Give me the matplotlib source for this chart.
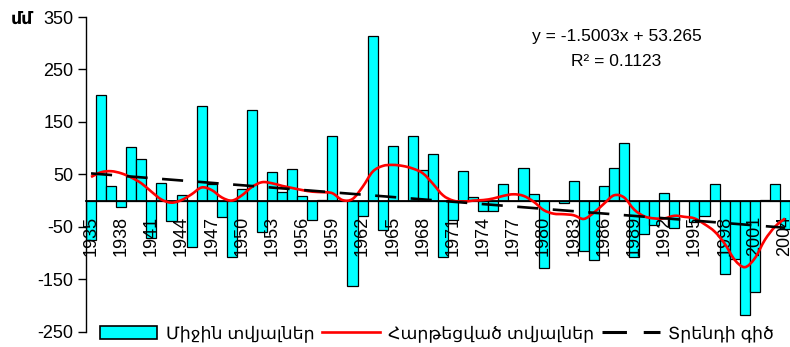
import numpy as np
import matplotlib
matplotlib.use("Agg")
import matplotlib.pyplot as plt
from matplotlib.path import Path
from matplotlib.patches import PathPatch, Patch
from matplotlib.lines import Line2D

# yearly precipitation anomalies, mm
years = list(range(1935, 2005))
mean_vals = [-75, 202, 27, -13, 103, 80, -72, 34, -38, 11,
             -88, 181, 31, -32, -108, 23, 172, -59, 55, 17,
             60, 9, -37, 2, 123, 0, -162, -30, 314, -57,
             104, 0, 123, 58, 89, -107, -37, 57, 6, -20,
             -20, 31, 0, 63, 12, -128, 0, -5, 37, -97,
             -113, 28, 63, 109, -107, -64, -47, 15, -53, 0,
             -40, -30, 31, -140, -111, -218, -175, 2, 31, -54]
smooth_vals = [45, 54, 56, 52, 44, 33, 17, 2, -4, 1,
               12, 25, 20, 6, 0, 10, 26, 35, 33, 28,
               24, 20, 17, 16, 14, 1, 3, 26, 55, 66,
               68, 66, 61, 52, 32, 10, 0, -2, 0, 1,
               4, 9, 12, 9, -2, -18, -25, -26, -28, -35,
               -23, -6, 10, 6, -17, -30, -34, -34, -29, -31,
               -34, -45, -59, -82, -113, -127, -110, -75, -50, -34]
trend_slope = -1.5003
trend_icept = 53.265
y_ticks = [-250, -150, -50, 50, 150, 250, 350]
tick_years = years[::3]

legend_labels = ["Միջին տվյալներ", "Հարթեցված տվյալներ", "Տրենդի գիծ"]
unit_label = "մմ"
eq_text = "y = -1.5003x + 53.265"
r2_text = "R² = 0.1123"

plt.rcParams["font.family"] = ["Liberation Sans", "DejaVu Sans"]
plt.rcParams["axes.unicode_minus"] = False


def smooth_path(xs, ys):
    """Excel-like smoothed line: Catmull-Rom tangents as cubic Bezier segments."""
    pts = np.column_stack([xs, ys]).astype(float)
    n = len(pts)
    verts = [pts[0]]; codes = [Path.MOVETO]
    for i in range(n - 1):
        p0 = pts[max(i - 1, 0)]; p1 = pts[i]; p2 = pts[i + 1]; p3 = pts[min(i + 2, n - 1)]
        verts += [p1 + (p2 - p0) / 6.0, p2 - (p3 - p1) / 6.0, p2]
        codes += [Path.CURVE4] * 3
    return Path(verts, codes)


W, H = 790, 347
fig = plt.figure(figsize=(W / 100, H / 100), dpi=100)
ax = fig.add_axes([86 / W, 15.3 / H, 704 / W, 314.7 / H])

trend_ls = (0, (8, 5.5))
x = np.arange(len(years))
ax.bar(x, mean_vals, width=1.0, color="#00FFFF", edgecolor="black", linewidth=0.9, zorder=1)
ax.add_patch(PathPatch(smooth_path(x, smooth_vals), facecolor="none", edgecolor="red",
                       lw=1.9, zorder=3))
xt = x + 1
ax.plot(x, trend_slope * xt + trend_icept, color="black", lw=1.9, linestyle=trend_ls, zorder=4)

ax.set_xlim(-0.5, len(years) - 0.5)
ax.set_ylim(-250, 350)
for s in ("top", "right"):
    ax.spines[s].set_visible(False)
ax.spines["bottom"].set_position(("data", 0))
ax.spines["bottom"].set_linewidth(1.3)
ax.spines["left"].set_linewidth(1.0)

ax.set_xticks([years.index(y) for y in tick_years])
ax.set_xticklabels([str(y) for y in tick_years], rotation=90, fontsize=13)
ax.tick_params(axis="x", length=0, pad=11)
ax.set_yticks(y_ticks)
ax.set_yticklabels([str(v) for v in y_ticks], fontsize=13)
ax.tick_params(axis="y", length=6, width=1, direction="out", pad=3)

fig.text(22 / W, 1 - 19 / H, unit_label, fontsize=12.5, fontweight="bold", ha="center", va="center")
fig.text(617 / W, 1 - 36 / H, eq_text, fontsize=12.5, ha="center", va="center")
fig.text(616 / W, 1 - 62 / H, r2_text, fontsize=12.5, ha="center", va="center")

handles = [Patch(facecolor="#00FFFF", edgecolor="black", linewidth=1.2),
           Line2D([], [], color="red", lw=1.9),
           Line2D([], [], color="black", lw=2.2, linestyle=trend_ls)]
fig.legend(handles, legend_labels, loc="center left", bbox_to_anchor=(100 / W, 1 - 334 / H),
           ncol=3, frameon=False, fontsize=12.5, handlelength=3.3, handleheight=0.8,
           handletextpad=0.5, columnspacing=0.45, borderaxespad=0, borderpad=0)

fig.savefig("out.png", dpi=100)
